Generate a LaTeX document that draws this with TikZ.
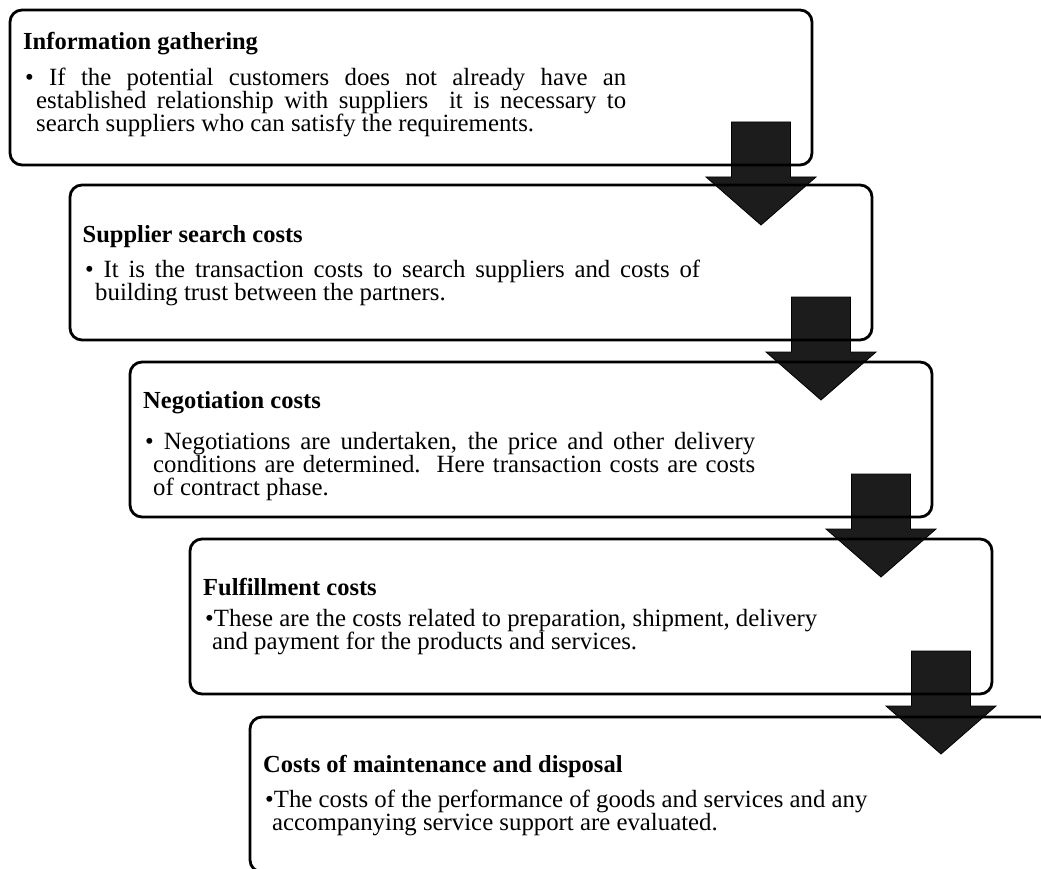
\documentclass[tikz,border=0pt]{standalone}
\usepackage{fontspec}
\setmainfont{Liberation Serif}
\usetikzlibrary{calc}
\pgfdeclarelayer{background}
\pgfsetlayers{background,main}
\definecolor{arrowgray}{RGB}{28,28,28}

\tikzset{
  stagebox/.style={draw=black, line width=2.8pt, rounded corners=12pt,
    minimum width=802pt, minimum height=155pt, anchor=north west,
    inner sep=0pt, outer sep=0pt},
  flowarrow/.style={fill=arrowgray, draw=black, line width=0.8pt},
  heading/.style={anchor=base west, inner sep=0pt,
    font=\fontsize{24.5}{22}\selectfont\bfseries},
  bodytext/.style={anchor=base west, inner sep=0pt},
}

% block arrow hanging from the lower right corner of a stage box
\newcommand\stagearrow[1]{%
  \begin{scope}[shift={(#1.south east)}]
    \path[flowarrow] (-80.5,-43) -- (-21.5,-43) -- (-21.5,12) -- (4,12)
      -- (-51,60) -- (-106,12) -- (-80.5,12) -- cycle;
  \end{scope}}

% paragraph of a stage box, first line carries the bullet
\newcommand\stagetext[2]{\parbox[t]{#1}{\fontsize{24.8}{23}\selectfont\hbadness=10000 #2}}

\begin{document}
\begin{tikzpicture}[x=1pt, y=-1pt]
  \useasboundingbox (0,0) rectangle (1041,869);
  \clip (0,0) rectangle (1041,869);

  % stage boxes
  \node[stagebox] (b1) at (10,10) {};
  \node[stagebox] (b2) at (70,185) {};
  \node[stagebox] (b3) at (130,362) {};
  \node[stagebox] (b4) at (190,539) {};
  \node[stagebox] (b5) at (250,717) {};

  % arrows between consecutive stages, behind the box outlines
  \begin{pgfonlayer}{background}
    \stagearrow{b1}
    \stagearrow{b2}
    \stagearrow{b3}
    \stagearrow{b4}
  \end{pgfonlayer}

  % stage 1
  \node[heading] (h1) at ($(b1.north west)+(13,40)$) {Information gathering};
  \node[bodytext] (p1) at ($(b1.north west)+(26,76)$) {\stagetext{590pt}{%
    \hspace*{-11pt}\textbullet\ If the potential customers does not already have an\linebreak
    established relationship with suppliers\ \ it is necessary to\linebreak
    search suppliers who can satisfy the requirements.}};

  % stage 2
  \node[heading] (h2) at ($(b2.north west)+(12.5,57)$) {Supplier search costs};
  \node[bodytext] (p2) at ($(b2.north west)+(25,92)$) {\stagetext{605pt}{%
    \hspace*{-10pt}\textbullet\ It is the transaction costs to search suppliers and costs of\linebreak
    building trust between the partners.}};

  % stage 3
  \node[heading] (h3) at ($(b3.north west)+(13,46)$) {Negotiation costs};
  \node[bodytext] (p3) at ($(b3.north west)+(23,87)$) {\stagetext{602pt}{%
    \hspace*{-8pt}\textbullet\ Negotiations are undertaken, the price and other delivery\linebreak
    conditions are determined.\ \ Here transaction costs are costs\linebreak
    of contract phase.}};

  % stage 4
  \node[heading] (h4) at ($(b4.north west)+(13,56)$) {Fulfillment costs};
  \node[bodytext] (p4) at ($(b4.north west)+(22,87)$) {\stagetext{720pt}{\raggedright
    \hspace*{-7pt}\textbullet These are the costs related to preparation, shipment, delivery\\
    and payment for the products and services.}};

  % stage 5
  \node[heading] (h5) at ($(b5.north west)+(13,55)$) {Costs of maintenance and disposal};
  \node[bodytext] (p5) at ($(b5.north west)+(22,90)$) {\stagetext{720pt}{\raggedright
    \hspace*{-7pt}\textbullet The costs of the performance of goods and services and any\\
    accompanying service support are evaluated.}};
\end{tikzpicture}
\end{document}
